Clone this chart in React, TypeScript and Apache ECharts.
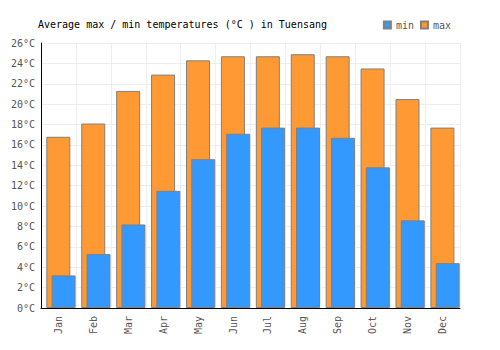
import React, { useEffect, useRef } from "react";
import * as echarts from "echarts";

const months = ["Jan", "Feb", "Mar", "Apr", "May", "Jun", "Jul", "Aug", "Sep", "Oct", "Nov", "Dec"];
const minTemps = [3.2, 5.3, 8.2, 11.5, 14.6, 17.1, 17.7, 17.7, 16.7, 13.8, 8.6, 4.4];
const maxTemps = [16.8, 18.1, 21.3, 22.9, 24.3, 24.7, 24.7, 24.9, 24.7, 23.5, 20.5, 17.7];
const yTicks = { min: 0, max: 26, interval: 2 };

const FONT = "DejaVu Sans Mono";

export default function App() {
  const ref = useRef<HTMLDivElement>(null);
  useEffect(() => {
    if (!ref.current) return;
    const chart = echarts.init(ref.current, null, { renderer: "svg" });
    chart.setOption({
      animation: false,
      title: {
        text: "Average max / min temperatures (°C ) in Tuensang",
        left: 33,
        top: 14,
        textStyle: { fontFamily: FONT, fontSize: 10, fontWeight: "normal", color: "#000" },
      },
      legend: {
        data: ["min", "max"],
        right: 44,
        top: 15,
        itemWidth: 7,
        itemHeight: 7,
        itemGap: 6,
        icon: "rect",
        textStyle: { fontFamily: FONT, fontSize: 10, color: "#555" },
      },
      grid: [
        { left: 41, right: 40, top: 43, bottom: 42 },
        { left: 43.5, right: 37.5, top: 43, bottom: 42 },
      ],
      xAxis: [
        {
          type: "category",
          data: months,
          gridIndex: 0,
          axisLine: { show: false },
          axisTick: { show: false },
          splitLine: { show: true, lineStyle: { color: "#eee" } },
          axisLabel: { rotate: 90, fontFamily: FONT, fontSize: 10, color: "#555", margin: 8 },
          z: 0,
        },
        { type: "category", data: months, gridIndex: 1, show: false },
        {
          type: "category",
          data: months,
          gridIndex: 0,
          axisLine: { show: true, lineStyle: { color: "#000", width: 1 } },
          axisTick: { show: false },
          axisLabel: { show: false },
          splitLine: { show: false },
          z: 10,
        },
      ],
      yAxis: [
        {
          type: "value",
          gridIndex: 0,
          ...yTicks,
          axisLine: { show: false },
          axisTick: { show: false },
          splitLine: { lineStyle: { color: "#eee" } },
          axisLabel: { formatter: "{value}°C", fontFamily: FONT, fontSize: 10, color: "#555", margin: 6 },
          z: 0,
        },
        { type: "value", gridIndex: 1, ...yTicks, show: false, splitLine: { show: false } },
        {
          type: "value",
          gridIndex: 0,
          ...yTicks,
          position: "left",
          axisLine: { show: true, lineStyle: { color: "#000", width: 1 } },
          axisTick: { show: false },
          axisLabel: { show: false },
          splitLine: { show: false },
          z: 10,
        },
      ],
      series: [
        {
          name: "max",
          type: "bar",
          xAxisIndex: 1,
          yAxisIndex: 1,
          data: maxTemps,
          barWidth: 24,
          barGap: "-78%",
          itemStyle: { color: "#ff9933", borderColor: "#808080", borderWidth: 1 },
          z: 2,
        },
        {
          name: "min",
          type: "bar",
          xAxisIndex: 1,
          yAxisIndex: 1,
          data: minTemps,
          barWidth: 24,
          itemStyle: { color: "#3399ff", borderColor: "#808080", borderWidth: 1 },
          z: 3,
        },
      ],
    });
    return () => chart.dispose();
  }, []);
  return <div ref={ref} style={{ width: 500, height: 350, marginLeft: -8, marginTop: -8 }} />;
}
